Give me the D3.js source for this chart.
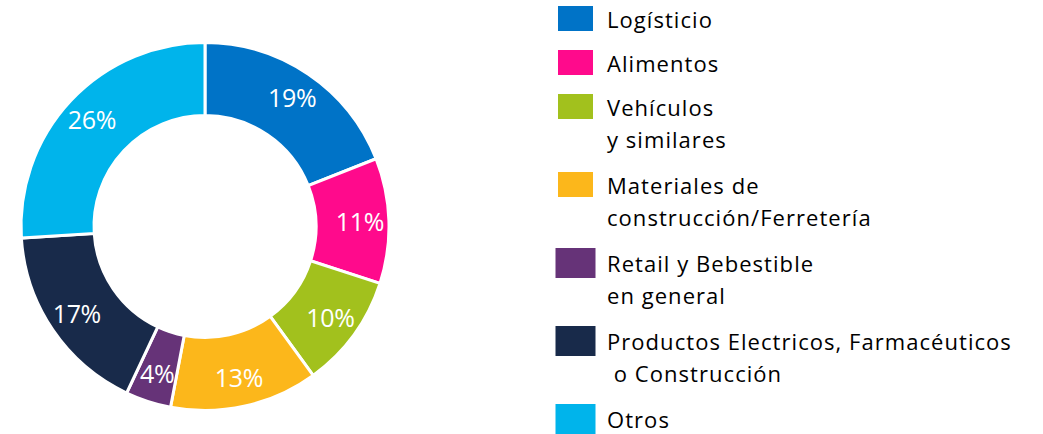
<!DOCTYPE html>
<html>
<head>
<meta charset="utf-8">
<script src="https://cdn.jsdelivr.net/npm/d3@7"></script>
<style>
  html, body { margin: 0; padding: 0; background: #ffffff; }
  svg { display: block; }
  text { font-family: "Open Sans", "Noto Sans", sans-serif; font-variant-ligatures: none; }
</style>
</head>
<body>
<svg id="chart" width="1043" height="434"></svg>
<script>
// ---- data ----
const categories = [
  "Logísticio",
  "Alimentos",
  "Vehículos\ny similares",
  "Materiales de\nconstrucción/Ferretería",
  "Retail y Bebestible\nen general",
  "Productos Electricos, Farmacéuticos\n o Construcción",
  "Otros"
];
const shares = [19, 11, 10, 13, 4, 17, 26];
const colors = ["#0073C7", "#FF0A8C", "#A2C11D", "#FCB71B", "#663378", "#182A4A", "#00B4EB"];

// ---- layout ----
const svg = d3.select("#chart");
const cx = 205, cy = 226.5;
const outerR = 184, innerR = 111, labelR = 155;

const data = categories.map((c, i) => ({ name: c, value: shares[i], color: colors[i] }));

const pie = d3.pie().value(d => d.value).sort(null).startAngle(0).endAngle(2 * Math.PI);
const arc = d3.arc().innerRadius(innerR).outerRadius(outerR);
const labelArc = d3.arc().innerRadius(labelR).outerRadius(labelR);

const g = svg.append("g").attr("transform", `translate(${cx},${cy})`);
const arcs = pie(data);

g.selectAll("path.slice")
  .data(arcs)
  .join("path")
  .attr("class", "slice")
  .attr("d", arc)
  .attr("fill", d => d.data.color)
  .attr("stroke", "#ffffff")
  .attr("stroke-width", 3)
  .attr("stroke-linejoin", "miter");

g.selectAll("text.pct")
  .data(arcs)
  .join("text")
  .attr("class", "pct")
  .attr("transform", d => `translate(${labelArc.centroid(d)})`)
  .attr("text-anchor", "middle")
  .attr("dy", "0.36em")
  .attr("fill", "#ffffff")
  .attr("font-size", 25)
  .attr("letter-spacing", -0.3)
  .text(d => d.data.value + "%");

// ---- legend ----
const legendX = 558, textX = 607;
const rowTops = [6, 50, 94, 172, 248, 326, 404];   // legend row y (layout)
const swSizes = [[35, 25], [35, 25], [35, 25], [35, 25], [40, 30], [40, 30], [40, 30]];
const lineH = 32;

const leg = svg.append("g");
const items = leg.selectAll("g.item")
  .data(data)
  .join("g")
  .attr("class", "item")
  .attr("transform", (d, i) => `translate(0,${rowTops[i]})`);

items.append("rect")
  .attr("x", (d, i) => legendX - (swSizes[i][0] - 35) / 2)
  .attr("y", 0)
  .attr("width", (d, i) => swSizes[i][0])
  .attr("height", (d, i) => swSizes[i][1])
  .attr("fill", d => d.color);

items.each(function(d, i) {
  const lines = d.name.split("\n");
  const t = d3.select(this).append("text")
    .attr("x", textX)
    .attr("y", i >= 4 ? 24 : 22)
    .attr("fill", "#000000")
    .attr("font-size", 22)
    .attr("letter-spacing", 1.05)
    .attr("xml:space", "preserve");
  lines.forEach((ln, k) => {
    t.append("tspan")
      .attr("x", textX)
      .attr("dy", k === 0 ? 0 : lineH)
      .text(ln);
  });
});
</script>
</body>
</html>
